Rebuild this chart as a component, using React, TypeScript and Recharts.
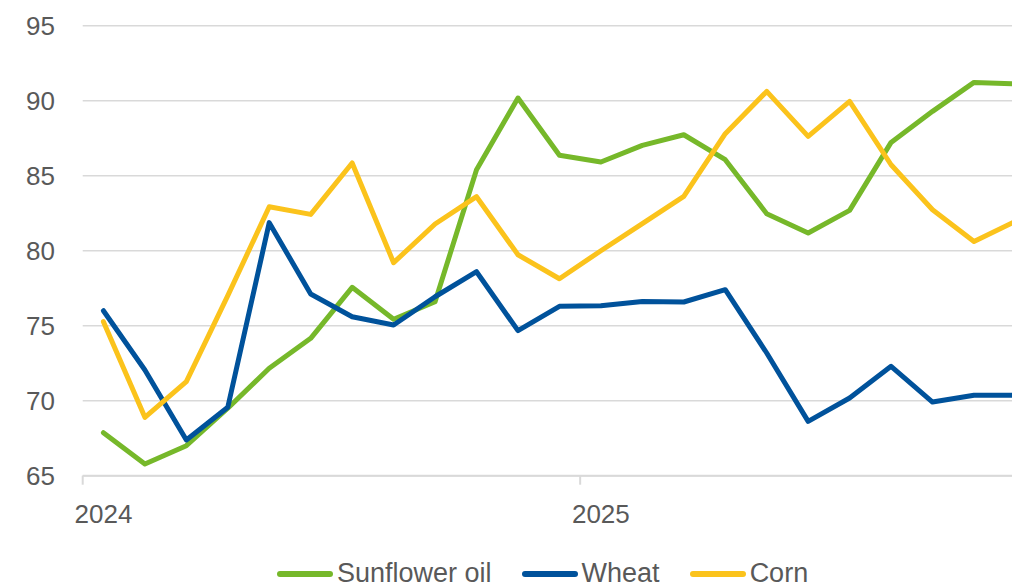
import React from "react";
import { LineChart, Line, XAxis, YAxis, CartesianGrid, Legend } from "recharts";

const months: string[] = [
  "2024-01", "2024-02", "2024-03", "2024-04", "2024-05", "2024-06",
  "2024-07", "2024-08", "2024-09", "2024-10", "2024-11", "2024-12",
  "2025-01", "2025-02", "2025-03", "2025-04", "2025-05", "2025-06",
  "2025-07", "2025-08", "2025-09", "2025-10", "2025-11",
];

const sunflowerOil: number[] = [
  67.87, 65.78, 67.0, 69.5, 72.16, 74.16, 77.56, 75.43, 76.6, 85.4, 90.18, 86.36,
  85.91, 87.02, 87.73, 86.07, 82.47, 81.18, 82.69, 87.22, 89.29, 91.22, 91.13,
];

const wheat: number[] = [
  76.0, 72.05, 67.38, 69.56, 81.87, 77.11, 75.6, 75.05, 76.93, 78.6, 74.67, 76.29,
  76.33, 76.62, 76.58, 77.4, 73.18, 68.62, 70.18, 72.29, 69.91, 70.36, 70.36,
];

const corn: number[] = [
  75.27, 68.89, 71.27, 77.0, 82.93, 82.42, 85.85, 79.2, 81.78, 83.6, 79.73, 78.13,
  80.0, 81.8, 83.62, 87.8, 90.62, 87.62, 89.96, 85.73, 82.73, 80.62, 81.96,
];

const seriesNames: string[] = ["Sunflower oil", "Wheat", "Corn"];
const yTicks: number[] = [65, 70, 75, 80, 85, 90, 95];
const yearTicks: number[] = [-0.5, 11.5];
const yearLabels: string[] = ["2024", "2025"];

const data = months.map((m, i) => ({
  i,
  month: m,
  sunflower: sunflowerOil[i],
  wheat: wheat[i],
  corn: corn[i],
}));

const FONT = "'Liberation Sans', Arial, sans-serif";
const TEXT = "#595959";
const GRID = "#d9d9d9";

const CHART_W = 1012;
const CHART_H = 575;
const PLOT_LEFT = 74.7;
const X_MIN = -0.5;
const X_MAX = 22.11;
const HALF_BAND = (CHART_W - PLOT_LEFT) / (X_MAX - X_MIN) / 2;

const YearTick = (props: any) => {
  const { x, y, payload } = props;
  const idx = yearTicks.indexOf(payload.value);
  return (
    <text
      x={x + HALF_BAND}
      y={y + 38}
      textAnchor="middle"
      fill={TEXT}
      fontSize={26}
      fontFamily={FONT}
    >
      {idx >= 0 ? yearLabels[idx] : ""}
    </text>
  );
};

const renderLegend = (props: any) => {
  const payload = [...(props.payload || [])].sort(
    (a: any, b: any) => seriesNames.indexOf(a.value) - seriesNames.indexOf(b.value)
  );
  return (
    <div
      style={{
        display: "flex",
        alignItems: "center",
        fontFamily: FONT,
        fontSize: 27,
        lineHeight: "27px",
        color: TEXT,
        whiteSpace: "nowrap",
      }}
    >
      {payload.map((entry: any) => (
        <div
          key={entry.value}
          style={{ display: "flex", alignItems: "center", marginRight: 30 }}
        >
          <span
            style={{
              display: "inline-block",
              width: 56,
              height: 6,
              borderRadius: 3,
              background: entry.color,
              marginRight: 4,
            }}
          />
          <span>{entry.value}</span>
        </div>
      ))}
    </div>
  );
};

export default function App() {
  return (
    <div style={{ width: CHART_W, height: CHART_H, overflow: "hidden" }}>
      <LineChart
        width={CHART_W}
        height={CHART_H}
        data={data}
        margin={{ top: 17.7, right: 0, bottom: 47.3, left: 0 }}
      >
        <CartesianGrid vertical={false} stroke={GRID} strokeWidth={1.5} />
        <XAxis
          dataKey="i"
          type="number"
          domain={[X_MIN, X_MAX]}
          ticks={yearTicks}
          allowDataOverflow
          interval={0}
          height={60}
          tickSize={9}
          tickMargin={0}
          axisLine={{ stroke: GRID, strokeWidth: 2 }}
          tickLine={{ stroke: GRID, strokeWidth: 2 }}
          tick={<YearTick />}
        />
        <YAxis
          type="number"
          domain={[65, 95]}
          ticks={yTicks}
          width={PLOT_LEFT}
          tickSize={0}
          tickMargin={27.7}
          axisLine={false}
          tickLine={false}
          tick={{ fill: TEXT, fontSize: 26, fontFamily: FONT }}
        />
        <Legend
          layout="horizontal"
          verticalAlign="middle"
          align="center"
          content={renderLegend}
          wrapperStyle={{ left: 269, top: 552, width: "auto", height: "auto" }}
        />
        <Line
          name={seriesNames[0]}
          dataKey="sunflower"
          stroke="#76B82A"
          strokeWidth={5}
          strokeLinecap="round"
          strokeLinejoin="round"
          dot={false}
          activeDot={false}
          isAnimationActive={false}
        />
        <Line
          name={seriesNames[1]}
          dataKey="wheat"
          stroke="#00529B"
          strokeWidth={5}
          strokeLinecap="round"
          strokeLinejoin="round"
          dot={false}
          activeDot={false}
          isAnimationActive={false}
        />
        <Line
          name={seriesNames[2]}
          dataKey="corn"
          stroke="#FBC31C"
          strokeWidth={5}
          strokeLinecap="round"
          strokeLinejoin="round"
          dot={false}
          activeDot={false}
          isAnimationActive={false}
        />
      </LineChart>
    </div>
  );
}
